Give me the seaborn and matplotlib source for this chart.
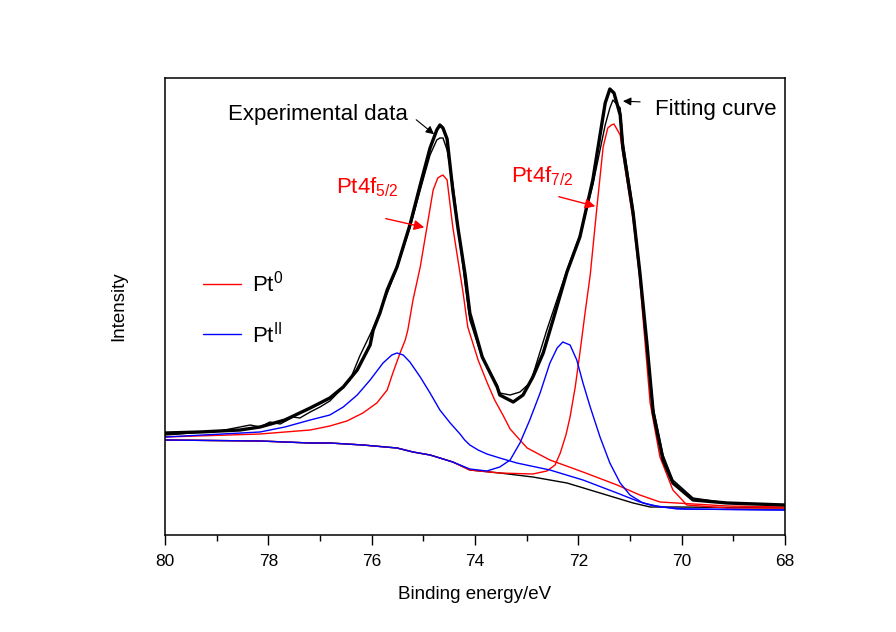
import matplotlib
matplotlib.use('Agg')
import matplotlib.pyplot as plt
import seaborn as sns
from matplotlib.lines import Line2D
from matplotlib.ticker import MultipleLocator

# Binding energy (eV) and intensity (a.u.)
fit_E = [80.00, 79.32, 78.55, 78.16, 77.68, 77.19, 76.81, 76.55, 76.28, 76.03,
         75.97, 75.84, 75.70, 75.51, 75.26, 75.06, 74.87, 74.74, 74.68, 74.62,
         74.54, 74.43, 74.33, 74.19, 74.10, 73.86, 73.57, 73.52, 73.26, 73.07,
         72.88, 72.68, 72.49, 72.22, 71.97, 71.72, 71.58, 71.48, 71.39, 71.31,
         71.19, 71.14, 70.94, 70.81, 70.67, 70.55, 70.36, 70.17, 69.78, 69.12,
         68.00]
fit_I = [102, 103, 105, 108, 115, 127, 137, 148, 165, 190,
         205, 222, 245, 268, 310, 350, 387, 405, 410, 407,
         396, 345, 307, 260, 222, 178, 148, 140, 133, 140,
         158, 182, 215, 263, 298, 355, 400, 432, 446, 442,
         420, 388, 322, 263, 190, 122, 75, 52, 35, 32,
         30]

exp_E = [80.00, 79.71, 79.32, 78.94, 78.55, 78.35, 78.16, 77.97, 77.77, 77.52,
         77.39, 77.19, 77.00, 76.81, 76.62, 76.42, 76.23, 75.97, 75.84, 75.51,
         75.26, 75.06, 74.87, 74.74, 74.68, 74.62, 74.54, 74.43, 74.33, 74.19,
         74.10, 73.86, 73.57, 73.52, 73.32, 73.13, 72.94, 72.88, 72.61, 72.22,
         71.97, 71.72, 71.58, 71.48, 71.39, 71.33, 71.19, 71.14, 70.94, 70.81,
         70.55, 70.36, 70.17, 69.78, 69.12, 68.00]
exp_I = [100, 101, 103, 104, 108, 110, 108, 113, 111, 118,
         117, 123, 128, 134, 144, 155, 179, 207, 223, 267,
         307, 345, 380, 395, 397, 397, 385, 352, 310, 250,
         215, 177, 150, 142, 140, 143, 152, 160, 205, 265,
         300, 350, 385, 410, 427, 435, 427, 395, 327, 265,
         127, 80, 55, 37, 32, 30]

bg_E = [80.00, 78.16, 77.19, 76.81, 76.17, 75.51, 75.20, 74.87, 74.68, 74.43,
        74.10, 73.52, 72.88, 72.22, 71.58, 70.94, 70.61, 70.09, 68.00]
bg_I = [95, 94, 92, 92, 90, 87, 83, 80, 77, 73,
        65, 62, 58, 52, 42, 32, 28, 28, 27]

# Pt0 components (with background)
pt0_52_E = [80.00, 78.16, 77.19, 76.81, 76.48, 76.17, 75.90, 75.70, 75.59, 75.45,
            75.35, 75.30, 75.20, 75.06, 74.93, 74.81, 74.72, 74.66, 74.62, 74.54,
            74.43, 74.23, 74.14, 73.94, 73.77, 73.62, 73.46, 73.32, 73.13, 72.99,
            72.55, 71.91, 71.25, 70.81, 70.42, 69.12, 68.00]
pt0_52_I = [98, 101, 105, 109, 114, 122, 132, 145, 162, 182,
            195, 205, 235, 268, 308, 345, 357, 359, 360, 355,
            308, 242, 208, 175, 153, 135, 120, 106, 95, 87,
            75, 63, 50, 40, 33, 29, 28]

pt0_72_E = [80.00, 78.16, 77.19, 76.81, 76.17, 75.51, 75.20, 74.87, 74.68, 74.43,
            74.10, 73.52, 72.88, 72.61, 72.45, 72.35, 72.24, 72.16, 72.06, 71.97,
            71.87, 71.77, 71.64, 71.52, 71.43, 71.36, 71.31, 71.19, 71.14, 70.94,
            70.81, 70.61, 70.42, 70.17, 69.90, 69.12, 68.00]
pt0_72_I = [95, 94, 92, 92, 90, 87, 83, 80, 77, 73,
            65, 62, 61, 64, 70, 82, 100, 118, 148, 182,
            222, 260, 328, 388, 407, 410, 411, 400, 382, 315,
            255, 132, 78, 45, 30, 27, 27]

# PtII components (with background)
pt2_52_E = [80.00, 78.16, 77.68, 77.19, 76.81, 76.55, 76.28, 76.03, 75.78, 75.61,
            75.51, 75.39, 75.26, 75.06, 74.87, 74.68, 74.48, 74.29, 74.20, 74.10,
            73.94, 73.77, 73.52, 73.19, 72.55, 71.91, 71.25, 70.81, 70.42, 69.90,
            68.00]
pt2_52_I = [98, 103, 108, 115, 120, 128, 140, 155, 172, 180,
            182, 180, 173, 158, 142, 125, 112, 101, 95, 90,
            85, 81, 77, 72, 65, 55, 42, 33, 28, 26,
            25]

pt2_72_E = [80.00, 78.16, 77.19, 76.81, 76.17, 75.51, 75.20, 74.87, 74.68, 74.43,
            74.10, 73.77, 73.52, 73.32, 73.13, 72.94, 72.74, 72.55, 72.41, 72.30,
            72.16, 72.03, 71.91, 71.77, 71.58, 71.39, 71.19, 71.00, 70.75, 70.61,
            70.09, 68.00]
pt2_72_I = [95, 94, 92, 92, 90, 87, 83, 80, 77, 73,
            66, 64, 68, 75, 92, 115, 142, 172, 187, 193,
            190, 175, 152, 128, 98, 72, 52, 40, 32, 30,
            26, 25]

sns.set_style('ticks')
plt.rcParams['font.family'] = ['Liberation Sans', 'DejaVu Sans']
plt.rcParams['mathtext.default'] = 'regular'
plt.rcParams['text.color'] = 'black'
plt.rcParams['axes.labelcolor'] = 'black'
plt.rcParams['xtick.color'] = 'black'

fig = plt.figure(figsize=(8.96, 6.32), dpi=100)
ax = fig.add_axes([165 / 896, 1 - 535 / 632, 620 / 896, 457 / 632])

curves = [
    (bg_E, bg_I, 'black', 1.0),
    (pt0_52_E, pt0_52_I, 'red', 1.0),
    (pt0_72_E, pt0_72_I, 'red', 1.0),
    (pt2_52_E, pt2_52_I, 'blue', 1.0),
    (pt2_72_E, pt2_72_I, 'blue', 1.0),
    (exp_E, exp_I, 'black', 1.0),
    (fit_E, fit_I, 'black', 2.4),
]
for xs, ys, col, lw in curves:
    sns.lineplot(x=xs, y=ys, sort=False, estimator=None, color=col, lw=lw, ax=ax)

ax.set_xlim(80, 68)
ax.set_ylim(0, 457)
ax.xaxis.set_major_locator(MultipleLocator(2))
ax.xaxis.set_minor_locator(MultipleLocator(1))
ax.set_yticks([])
ax.tick_params(axis='x', which='major', length=7, width=1, labelsize=12.5, pad=7, direction='out')
ax.tick_params(axis='x', which='minor', length=4, width=1, direction='out')
for s in ax.spines.values():
    s.set_linewidth(1.1)
    s.set_color('black')

ax.set_xlabel('Binding energy/eV', fontsize=13.5, labelpad=12)
ax.set_ylabel('Intensity', fontsize=13.5, labelpad=27)

# annotations
ax.text(78.78, 415, 'Experimental data', fontsize=16, va='baseline', ha='left')
ax.annotate('', xy=(74.75, 399), xytext=(75.18, 417),
            arrowprops=dict(arrowstyle='-|>', color='black', lw=0.8, mutation_scale=12))
ax.text(70.52, 420, 'Fitting curve', fontsize=16, va='baseline', ha='left')
ax.annotate('', xy=(71.19, 434), xytext=(70.75, 433),
            arrowprops=dict(arrowstyle='-|>', color='black', lw=0.8, mutation_scale=12))

ax.text(76.70, 342, 'Pt4f$_{5/2}$', fontsize=16, color='red', va='baseline', ha='left')
ax.annotate('', xy=(74.93, 307), xytext=(75.78, 317),
            arrowprops=dict(arrowstyle='-|>', color='red', lw=1.0, mutation_scale=15))
ax.text(73.30, 353, 'Pt4f$_{7/2}$', fontsize=16, color='red', va='baseline', ha='left')
ax.annotate('', xy=(71.62, 328), xytext=(72.43, 339),
            arrowprops=dict(arrowstyle='-|>', color='red', lw=1.0, mutation_scale=15))

handles = [Line2D([], [], color='red', lw=1.0), Line2D([], [], color='blue', lw=1.0)]
ax.legend(handles, ['Pt$^{0}$', 'Pt$^{II}$'], frameon=False, fontsize=16,
          loc='center left', bbox_to_anchor=(203 / 896, 1 - 309 / 632),
          bbox_transform=fig.transFigure, borderpad=0, borderaxespad=0,
          handlelength=1.7, handletextpad=0.5, labelspacing=1.1)

fig.savefig('out.png', dpi=100, facecolor='white')
